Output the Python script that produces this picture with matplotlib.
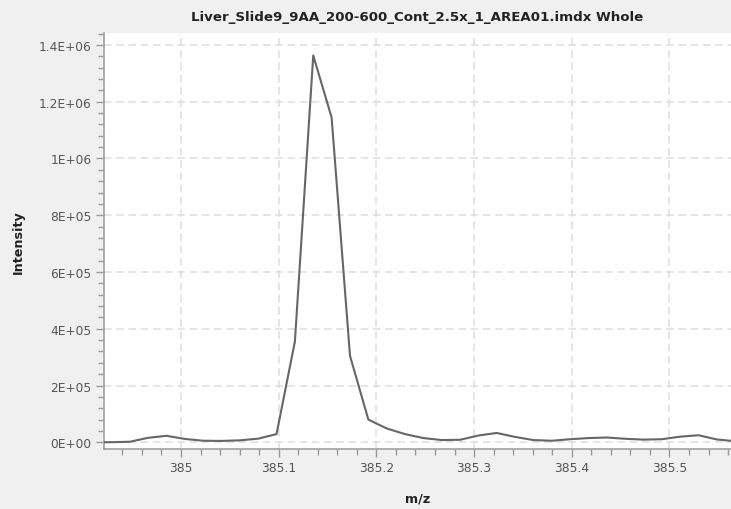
import matplotlib
matplotlib.use("Agg")
import matplotlib.pyplot as plt
from matplotlib.ticker import FixedLocator, MultipleLocator

title = "Liver_Slide9_9AA_200-600_Cont_2.5x_1_AREA01.imdx Whole"

# spectrum
mz = [384.9100, 384.9288, 384.9476, 384.9664, 384.9852, 385.0039, 385.0227,
      385.0415, 385.0603, 385.0791, 385.0978, 385.1166, 385.1354, 385.1542,
      385.1730, 385.1918, 385.2105, 385.2293, 385.2481, 385.2669, 385.2857,
      385.3045, 385.3232, 385.3420, 385.3608, 385.3796, 385.3984, 385.4171,
      385.4359, 385.4547, 385.4735, 385.4923, 385.5111, 385.5298, 385.5486,
      385.5674]
intensity = [0, 500, 2000, 16000, 23000, 12000, 5600,
             5000, 7000, 13000, 29000, 355000, 1363000, 1144000,
             305000, 80000, 49000, 29000, 15000, 8000, 9000,
             24000, 33000, 19000, 8000, 5600, 11000, 15000,
             17000, 12500, 9500, 11000, 20000, 25000, 10000,
             4000]

y_ticks = [0, 2e5, 4e5, 6e5, 8e5, 1e6, 1.2e6, 1.4e6]
y_labels = ["0E+00", "2E+05", "4E+05", "6E+05", "8E+05", "1E+06", "1.2E+06", "1.4E+06"]
x_ticks = [385.0, 385.1, 385.2, 385.3, 385.4, 385.5]
x_labels = ["385", "385.1", "385.2", "385.3", "385.4", "385.5"]

bg = "#f0f0f0"
fig = plt.figure(figsize=(7.31, 5.10), dpi=100, facecolor=bg)
ax = fig.add_axes([104 / 731, 60 / 510, 627 / 731, 416 / 510])
ax.set_facecolor("white")

ax.plot(mz, intensity, color="#666666", lw=1.5, zorder=3)

ax.set_xlim(384.9212, 385.563)
ax.set_ylim(-23500, 1.442e6)

ax.yaxis.set_major_locator(FixedLocator(y_ticks))
ax.set_yticklabels(y_labels)
ax.yaxis.set_minor_locator(MultipleLocator(40000))
ax.xaxis.set_major_locator(FixedLocator(x_ticks))
ax.set_xticklabels(x_labels)
ax.xaxis.set_minor_locator(MultipleLocator(0.02))

ax.grid(True, which="major", color="#dedede", lw=1.1, ls=(0, (5, 3)), zorder=1)

for s in ["top", "right"]:
    ax.spines[s].set_visible(False)
for s in ["left", "bottom"]:
    ax.spines[s].set_color("#a0a0a0")
    ax.spines[s].set_linewidth(1.2)

ax.tick_params(which="major", length=6, width=1, color="#999999",
               labelcolor="#555555", labelsize=8.8, pad=3)
ax.tick_params(which="minor", length=4, width=1, color="#999999")

ax.set_title(title, fontsize=9.6, fontweight="bold", color="#222222", pad=9)
ax.set_xlabel("m/z", fontsize=9.2, fontweight="bold", color="#222222", labelpad=12)
ax.set_ylabel("Intensity", fontsize=9.2, fontweight="bold", color="#222222", labelpad=10)

fig.savefig("out.png", dpi=100, facecolor=bg)
